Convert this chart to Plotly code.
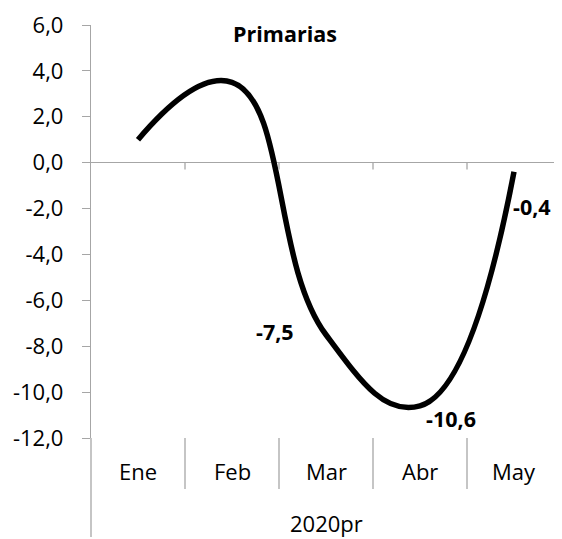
import plotly.graph_objects as go

categories = ["Ene", "Feb", "Mar", "Abr", "May"]
values = [1.0, 3.5, -7.5, -10.6, -0.4]
group_label = "2020pr"
title_text = "Primarias"
tick_vals = [6, 4, 2, 0, -2, -4, -6, -8, -10, -12]
tick_text = [f"{v:.1f}".replace(".", ",") for v in tick_vals]
labelled_idx = [2, 3, 4]

# page body has an 8px margin; figure placed so the plot matches the reference frame
OFF = 8
W, H = 562 - OFF, 539 - OFF
L, R, T, B = 91 - OFF, 1, 9, 101
plot_h = H - T - B
plot_w = W - L - R

FONT = "Open Sans"
GRAY = "#a6a6a6"

xs = list(range(len(categories)))

fig = go.Figure()
fig.add_trace(go.Scatter(
    x=xs, y=values, mode="lines",
    line=dict(color="black", width=5.5, shape="spline", smoothing=1.3),
    hoverinfo="skip", showlegend=False,
))

shapes = []
# y axis extension down to bottom
shapes.append(dict(type="line", xref="paper", yref="paper", x0=0, x1=0,
                   y0=0, y1=-B / plot_h, line=dict(color=GRAY, width=1.3)))
# tick marks on zero line at category boundaries
for i in range(len(categories)):
    xb = i + 0.5
    shapes.append(dict(type="line", xref="x", yref="y", x0=xb, x1=xb,
                       y0=0, y1=-0.3, line=dict(color=GRAY, width=1.3)))
# dividers in the category label area
for i in range(len(categories) - 1):
    xb = i + 0.5
    shapes.append(dict(type="line", xref="x", yref="paper", x0=xb, x1=xb,
                       y0=0, y1=-52 / plot_h, line=dict(color=GRAY, width=1.3)))

annotations = []
for i, c in enumerate(categories):
    annotations.append(dict(x=i, xref="x", y=-34 / plot_h, yref="paper", text=c,
                            showarrow=False, font=dict(family=FONT, size=22, color="black"),
                            xanchor="center", yanchor="middle"))
annotations.append(dict(x=0.5, xref="paper", y=-87 / plot_h, yref="paper", text=group_label,
                        showarrow=False, font=dict(family=FONT, size=22, color="black"),
                        xanchor="center", yanchor="middle"))
annotations.append(dict(x=(285 - 91) / plot_w, xref="paper", y=1 - 9 / plot_h, yref="paper",
                        text=f"<b>{title_text}</b>", showarrow=False,
                        font=dict(family=FONT, size=21.5, color="black"),
                        xanchor="center", yanchor="middle"))
shifts = {2: (-51, 3), 3: (31, -13), 4: (18, -35)}
for i in labelled_idx:
    dx, dy = shifts[i]
    annotations.append(dict(x=i, y=values[i], xref="x", yref="y",
                            text=f"<b>{values[i]:.1f}</b>".replace(".", ","),
                            showarrow=False, xshift=dx, yshift=dy,
                            font=dict(family=FONT, size=21.5, color="black"),
                            xanchor="center", yanchor="middle"))

fig.update_layout(
    width=W, height=H,
    margin=dict(l=L, r=R, t=T, b=B, pad=0),
    paper_bgcolor="white", plot_bgcolor="white",
    xaxis=dict(range=[-0.5, len(categories) - 0.5], visible=False, fixedrange=True),
    yaxis=dict(range=[-12, 6], tickvals=tick_vals, ticktext=tick_text,
               showline=True, linecolor=GRAY, linewidth=1.3,
               ticks="outside", ticklen=8, tickcolor=GRAY, tickwidth=1.3,
               showgrid=False, zeroline=True, zerolinecolor=GRAY, zerolinewidth=1.3,
               tickfont=dict(family=FONT, size=22, color="black"), ticklabelstandoff=14,
               ticklabeloverflow="allow", fixedrange=True),
    shapes=shapes, annotations=annotations, showlegend=False,
)

fig.write_html("out.html")
